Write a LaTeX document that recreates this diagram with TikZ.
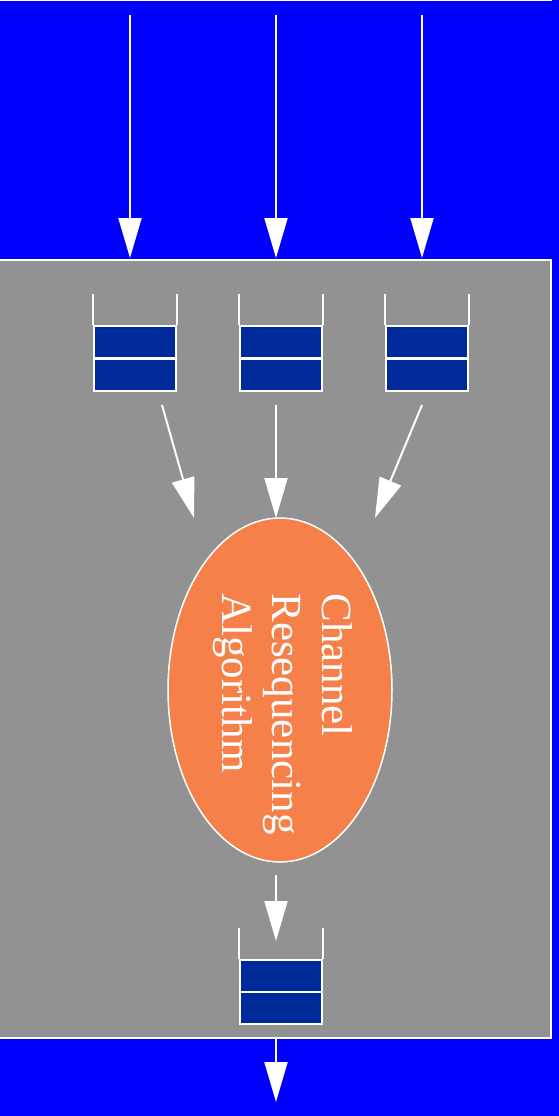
\documentclass[tikz,border=0pt]{standalone}
\usepackage{fontspec}
\setmainfont{Liberation Serif}
\usetikzlibrary{arrows.meta,shapes.geometric}
\definecolor{bgblue}{RGB}{0,0,255}
\definecolor{panelgray}{RGB}{146,146,146}
\definecolor{cellblue}{RGB}{0,41,153}
\definecolor{algorange}{RGB}{245,128,74}
\tikzset{
  flow/.style={white, line width=2pt, -{Triangle[length=40pt,width=23pt]}},
  cell/.style={rectangle, draw=white, line width=2pt, fill=cellblue,
               minimum width=82pt, minimum height=32pt, inner sep=0pt},
  qwall/.style={white, line width=2pt},
  alg/.style={ellipse, draw=white, line width=1.5pt, fill=algorange,
              minimum width=224pt, minimum height=344pt, inner sep=0pt},
  algtext/.style={text=white, rotate=-90, align=left, inner sep=0pt,
                  font=\fontsize{43}{50}\selectfont}
}
\begin{document}
\begin{tikzpicture}[x=1pt,y=-1pt]
  % canvas
  \fill[bgblue] (0,0) rectangle (559,1116);
  \useasboundingbox (0,0) rectangle (559,1116);
  \draw[white, line width=1.5pt] (-2,0.75) -- (552,0.75);

  % resequencer panel
  \draw[white, line width=2pt, fill=panelgray] (-3,260) rectangle (551,1038);

  % input queues
  \foreach \i/\x in {1/135, 2/281, 3/427} {
    \node[cell] (q\i a) at (\x,342) {};
    \node[cell] (q\i b) at (\x,375) {};
    \draw[qwall] (q\i a.north west) -- ++(0,-31);
    \draw[qwall] (q\i a.north east) -- ++(0,-31);
  }

  % output queue
  \node[cell] (qoa) at (281,976) {};
  \node[cell] (qob) at (281,1008) {};
  \draw[qwall] (qoa.north west) -- ++(0,-31);
  \draw[qwall] (qoa.north east) -- ++(0,-31);

  % algorithm
  \node[alg] (algo) at (280,690) {};
  \node[algtext] (algolabel) at (283,714) {Channel\\Resequencing\\Algorithm};

  % incoming channels
  \foreach \i/\x in {1/130, 2/276, 3/422} {
    \coordinate (src\i) at (\x,15);
    \coordinate (ent\i) at (\x,258);
    \draw[flow] (src\i) -- (ent\i);
  }

  % queues into the algorithm
  \coordinate (o1) at (162,405);
  \coordinate (o2) at (276,405);
  \coordinate (o3) at (422,405);
  \coordinate (t1) at (194,518);
  \coordinate (t2) at (276,518);
  \coordinate (t3) at (375,518);
  \draw[flow] (o1) -- (t1);
  \draw[flow] (o2) -- (t2);
  \draw[flow] (o3) -- (t3);

  % algorithm to output queue and out
  \coordinate (aout) at (276,875);
  \coordinate (qin) at (276,941);
  \draw[flow] (aout) -- (qin);
  \coordinate (pexit) at (276,1039);
  \coordinate (sink) at (276,1102);
  \draw[flow] (pexit) -- (sink);
\end{tikzpicture}
\end{document}
